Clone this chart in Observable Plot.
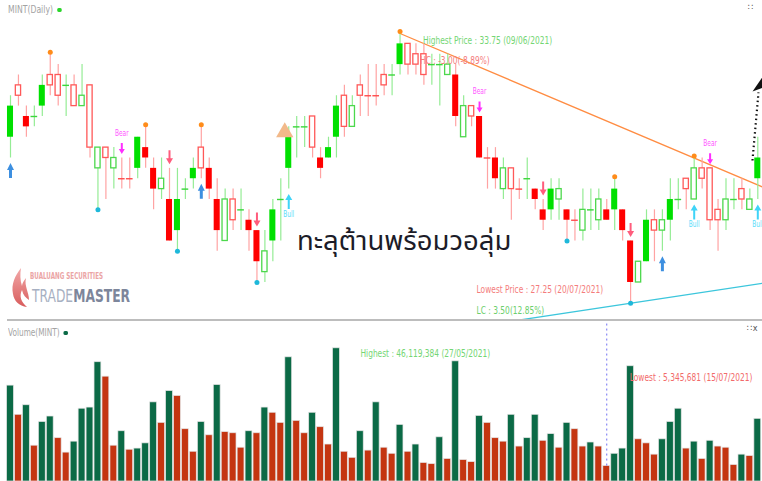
<!DOCTYPE html>
<html><head><meta charset="utf-8">
<script src="https://cdn.jsdelivr.net/npm/d3@7"></script>
<script src="https://cdn.jsdelivr.net/npm/@observablehq/plot@0.6"></script>
<style>
html,body{margin:0;padding:0;background:#fff;}
#wrap{position:relative;width:762px;height:481px;overflow:hidden;background:#fff;font-family:"Liberation Sans Narrow","DejaVu Sans Condensed",sans-serif;}
#price{position:absolute;left:0;top:0;}
#vol{position:absolute;left:0;top:320px;}
#divider{position:absolute;left:7px;top:319px;width:755px;height:2px;background:#bdbdbd;}
.hdr{position:absolute;font-size:11px;color:#a3a3a3;white-space:nowrap;transform:scaleX(0.78);transform-origin:0 50%;}
.hdr i{display:inline-block;width:6px;height:4px;border-radius:2px;margin-left:5px;vertical-align:middle;}
.ico{position:absolute;font-size:9px;color:#555;letter-spacing:-1px;}
#note{position:absolute;left:297px;top:228px;font-family:"Noto Sans Thai","Noto Sans","DejaVu Sans",sans-serif;font-size:27.5px;line-height:1;color:#1c1c28;white-space:nowrap;}
#logo{position:absolute;left:10px;top:263px;}
</style></head><body>
<div id="wrap">
  <div id="price"></div>
  <div id="vol"></div>
  <div id="divider"></div>
  <div class="hdr" id="h1" style="left:8px;top:3px;"></div>
  <div class="ico" style="left:748px;top:2px;">∷</div>
  <div class="hdr" id="h2" style="left:8px;top:326px;font-size:10.5px;"></div>
  <div class="ico" style="left:747px;top:323px;">∷ x</div>
  <div id="note">ทะลุต้านพร้อมวอลุ่ม</div>
  <svg id="logo" width="150" height="48" viewBox="0 0 150 48">
    <defs><linearGradient id="fl" x1="0" y1="0" x2="0" y2="1"><stop offset="0" stop-color="#F2A8A8"/><stop offset="1" stop-color="#D85C5C"/></linearGradient></defs>
    <path d="M11 5 C 5 13, 1 21, 3 31 C 4 38, 9 43, 17 44 C 11 39, 9 33, 12 27 C 13 32, 16 35, 19 37 C 19 29, 14 23, 16 15 C 14 18, 12 20, 12 23 C 10 17, 10 11, 11 5 Z" fill="url(#fl)"/>
    <text x="20" y="16" font-family="Liberation Sans Narrow, DejaVu Sans Condensed, sans-serif" font-size="8" font-weight="bold" fill="#EBA5A5" textLength="73" lengthAdjust="spacingAndGlyphs">BUALUANG SECURITIES</text>
    <text x="22" y="39" font-family="Liberation Sans Narrow, DejaVu Sans Condensed, sans-serif" font-size="18.5" textLength="98" lengthAdjust="spacingAndGlyphs"><tspan fill="#A7B0C2">TRADE</tspan><tspan fill="#7D869B" font-weight="bold">MASTER</tspan></text>
  </svg>
</div>
<script>
// ---------- data ----------
const symbol = "MINT";
const opens  = [31.25,32.5,31.5,31.75,32.0,32.75,32.75,32.5,32.5,32.25, 32.5,31.0,31.0,30.75,30.25,30.25,30.5,30.75,30.0,30.25, 28.75,29.0,30.0,30.25,31.0,30.0,29.0,29.75,29.75,29.5, 29.0,28.25,28.5,28.75,29.75,30.5,31.5,31.5,31.75,30.5, 30.75,31.25,32.25,32.0,32.5,32.25,32.25,32.75,32.75,33.0, 33.5,33.25,33.25,33.0,33.0,33.0,31.75,32.0,32.0,30.75, 30.75,30.25,30.5,30.5,30.0,30.25,29.75,29.25,29.5,30.0, 29.25,29.25,29.5,29.5,29.75,29.25,29.5,29.0,27.75,28.25, 28.25,29.25,29.25,29.25,29.75,30.25,30.5,30.5,30.5,29.5, 29.75,29.75,30.0,29.75,30.25];
const highs  = [32.25,32.75,32.0,32.0,32.75,33.25,33.0,32.75,32.75,33.0, 32.5,31.0,31.0,31.0,30.75,30.75,31.25,31.5,30.75,30.75, 30.5,30.5,30.25,30.75,31.5,30.75,30.25,30.0,30.0,30.0, 29.5,29.0,29.0,29.75,30.25,31.5,31.75,31.75,31.75,31.0, 31.25,32.25,32.5,32.25,32.75,33.0,33.0,33.0,33.0,33.75, 33.5,33.5,33.5,33.25,33.25,33.25,33.0,32.25,32.0,31.75, 31.0,31.0,30.75,30.5,30.25,30.75,30.0,29.75,30.25,30.25, 29.5,29.5,30.0,30.0,30.0,29.75,30.25,29.5,28.75,28.25, 29.5,29.5,29.5,30.25,30.25,30.25,30.75,30.75,30.5,29.75, 30.25,30.25,30.25,30.0,31.25];
const lows   = [30.75,32.0,31.25,31.5,31.75,32.25,32.0,31.75,32.0,32.0, 30.75,29.5,29.75,30.0,30.0,30.0,30.25,30.5,29.5,29.75, 28.75,28.5,29.75,30.0,30.25,29.75,28.5,28.75,29.0,29.0, 28.5,27.75,27.75,28.25,28.75,30.0,30.75,31.0,30.75,30.25, 30.75,30.75,31.25,31.5,31.75,31.75,32.0,32.25,32.25,32.75, 32.75,32.75,32.5,32.5,32.0,32.75,31.5,31.25,31.5,30.75, 30.0,30.0,29.75,29.25,29.75,29.75,29.5,29.0,29.25,29.25, 28.75,28.75,28.75,29.0,29.0,29.25,29.0,28.75,27.25,27.75, 28.25,28.25,28.5,28.75,29.5,29.5,29.75,30.0,29.0,28.5, 29.0,29.5,29.5,29.5,29.75];
const closes = [32.0,32.25,31.75,31.75,32.5,32.5,32.25,32.5,32.0,32.0, 31.0,30.5,30.75,30.5,30.25,30.25,31.25,31.0,30.5,30.0, 29.75,29.75,30.0,30.5,30.5,30.5,29.75,28.75,29.25,29.5, 29.25,29.0,28.0,29.5,29.75,31.25,31.5,31.5,31.0,30.75, 31.0,32.0,31.5,31.5,32.25,32.25,32.25,32.5,32.75,33.5, 33.0,33.0,32.75,33.0,33.0,32.75,32.75,31.25,31.75,31.75, 30.75,30.75,30.0,30.0,30.0,30.25,30.0,29.5,30.0,29.75, 29.5,29.25,29.0,29.5,29.25,29.5,30.0,29.5,28.75,27.75, 29.25,29.0,29.0,29.75,29.75,30.0,29.75,30.25,29.25,29.25, 29.25,29.75,29.75,29.5,30.75];
// candle colour: U = green, D = red
const candleTrend = ("UDDUUDDUDU"+"DUDUDDUDDU"+"DUUUDDDUDU"+"DDUUUUUUDD"+"UUDUDDDDUU"+"DDDUUUDUDD"+"DDUDDUDDUU"+"DDUUUDUDDU"+"UDUUUDUDDD"+"UUDUU").split("");
// volume in millions of shares
const volumeM = [33.2,23.1,26.4,12.4,20.6,22.5,15.0,10.0,13.8,25.2, 25.6,41.3,36.3,12.4,17.4,11.0,11.4,13.2,27.4,20.3, 31.3,29.6,18.1,10.3,20.6,16.0,33.4,17.1,16.7,11.7, 17.4,16.7,25.6,23.8,20.3,43.0,21.0,16.7,23.8,18.8, 12.8,46.119384,10.3,8.2,17.4,10.7,27.4,11.7,9.6,19.6, 10.3,12.8,6.4,6.0,15.3,7.8,41.6,7.4,6.7,22.7, 20.3,15.0,13.8,23.1,12.1,15.0,23.1,14.1,16.4,11.7, 20.3,18.1,12.1,13.5,12.1,5.345681,9.6,11.4,39.9,14.6, 13.2,9.3,14.6,20.6,25.2,11.4,13.8,7.8,14.1,12.1, 11.7,5.7,9.3,8.8,21.7];
const volumeTrend = ("GRGRGGRRGG"+"GGRRGRGGGR"+"GRRRGRGRRR"+"GRGRRGRRGR"+"RGRRGRGRRG"+"RGRRGRGRRG"+"RRRGRGGRGR"+"GRRGRRGGGR"+"RRGGGRGRGR"+"RRGRG").split("");
// signals
const swingHighIdx = [5,17,24,49,76,86];
const swingLowIdx  = [11,21,31,70,78];
const bearIdx = [14,59,88];
const sellIdx = [20,31,67,78];
const buyIdx  = [0,24,82];
const bullIdx = [35,86,94];
const breakoutIdx = [35];
// drawings
const resistanceIdx = [49,86];
const supportI = [78,94.6];
const supportP = [27.25,27.73];
const arrowI = [93.33,94.09];
const arrowP = [30.69,32.33];
// labels
const maxPriceDate = "09/06/2021", minPriceDate = "20/07/2021";
const maxVolDate = "27/05/2021", minVolDate = "15/07/2021";
const hcText = "HC : -3.00(-8.89%)", lcText = "LC : 3.50(12.85%)";

// ---------- build ----------
const N = opens.length;
const candles = d3.range(N).map(i => ({i, open: opens[i], high: highs[i], low: lows[i], close: closes[i], up: candleTrend[i] === "U"}));
const vols = d3.range(N).map(i => ({i, v: volumeM[i]*1e6, up: volumeTrend[i] === "G"}));
const G = {fill:"#00E000", hollow:"#4CD84C", wick:"#95EC95", doji:"#3AD63A"};
const R = {fill:"#FF0000", hollow:"#FF5858", wick:"#FFA3A3", doji:"#FF4D4D"};
const pal = d => d.up ? G : R;
const isFilled = d => d.close > d.open;
const bodies = candles.filter(d => d.open !== d.close);
const dojis = candles.filter(d => d.open === d.close);
const xDomain = [-10/7.95, 752/7.95];
const FONT = "Liberation Sans Narrow, DejaVu Sans Condensed, sans-serif";

const arrowSym = (len, hw, hl, sw, dir) => ({draw(c){
  const s = dir;
  c.moveTo(0,0); c.lineTo(hw/2,-s*hl); c.lineTo(sw/2,-s*hl); c.lineTo(sw/2,-s*len);
  c.lineTo(-sw/2,-s*len); c.lineTo(-sw/2,-s*hl); c.lineTo(-hw/2,-s*hl); c.closePath();
}});
const headSym = {draw(c){ c.moveTo(8,-13); c.lineTo(-6,7); c.lineTo(5,3); c.closePath(); }};

const maxI = d3.maxIndex(highs), minI = d3.minIndex(lows);
const slope = (highs[resistanceIdx[1]]-highs[resistanceIdx[0]])/(resistanceIdx[1]-resistanceIdx[0]);
const resLine = [{i: resistanceIdx[0], p: highs[resistanceIdx[0]]}, {i: xDomain[1], p: highs[resistanceIdx[0]] + slope*(xDomain[1]-resistanceIdx[0])}];
const sSlope = (supportP[1]-supportP[0])/(supportI[1]-supportI[0]);
const supLine = [{i: 55, p: supportP[0] + sSlope*(55-supportI[0])}, {i: supportI[1], p: supportP[1]}];
const byIdx = arr => arr.map(i => candles[i]);

const price = Plot.plot({
  width: 762, height: 320, margin: 0,
  x: {domain: xDomain, axis: null},
  y: {domain: [26.834, 34.545], axis: null},
  color: {type: "identity"},
  style: {fontFamily: FONT, background: "transparent"},
  marks: [
    Plot.line(resLine, {x: "i", y: "p", stroke: "#FF8C42", strokeWidth: 1.3}),
    Plot.line(supLine, {x: "i", y: "p", stroke: "#3CC6DC", strokeWidth: 1.3, clip: true}),
    Plot.ruleX(candles, {x: "i", y1: "low", y2: "high", stroke: d => pal(d).wick, strokeWidth: 1.2}),
    Plot.rect(bodies.filter(isFilled), {x1: d => d.i-0.38, x2: d => d.i+0.38, y1: "open", y2: "close", fill: d => pal(d).fill}),
    Plot.rect(bodies.filter(d => !isFilled(d)), {x1: d => d.i-0.33, x2: d => d.i+0.33, y1: "open", y2: "close", fill: "white", stroke: d => pal(d).hollow, strokeWidth: 1.3}),
    Plot.ruleY(dojis, {y: "close", x1: d => d.i-0.42, x2: d => d.i+0.42, stroke: d => pal(d).doji, strokeWidth: 1.4}),
    Plot.dot(byIdx(swingHighIdx), {x: "i", y: "high", dy: -2, r: 2.5, fill: "#FF8C1A", stroke: "none"}),
    Plot.dot(byIdx(swingLowIdx), {x: "i", y: "low", r: 2.5, fill: "#1EB8DA", stroke: "none"}),
    Plot.dot(byIdx(bearIdx), {x: "i", y: "high", dy: -4, symbol: arrowSym(11,6,5,2,1), fill: "#FF2EFF", stroke: "none"}),
    Plot.text(byIdx(bearIdx), {x: "i", y: "high", dy: -25, text: () => "Bear", fill: "#FF55FF", fontSize: 9, className: "sig"}),
    Plot.dot(byIdx(sellIdx), {x: "i", y: "high", dy: -4, symbol: arrowSym(14,7,6,2,1), fill: "#FF5C7C", stroke: "none"}),
    Plot.dot(byIdx(buyIdx), {x: "i", y: "low", dy: 5, symbol: arrowSym(15,7,7,3,-1), fill: "#3D8FE0", stroke: "none"}),
    Plot.dot(byIdx(bullIdx), {x: "i", y: "low", dy: 5, symbol: arrowSym(15,7,6,2,-1), fill: "#3FD4F8", stroke: "none"}),
    Plot.text(byIdx(bullIdx), {x: "i", y: "low", dy: 25, text: () => "Bull", fill: "#5ADCFA", fontSize: 9, className: "sig"}),
    Plot.dot(byIdx(breakoutIdx), {x: "i", y: "close", dx: -4, dy: -5, symbol: "triangle", r: 6.43, fill: "#F2B98A", stroke: "none"}),
    Plot.link([0], {x1: () => arrowI[0], y1: () => arrowP[0], x2: () => arrowI[1], y2: () => arrowP[1], stroke: "#111", strokeWidth: 2.2, strokeDasharray: "1.5,3"}),
    Plot.dot([0], {x: () => arrowI[1], y: () => arrowP[1], dy: -8, symbol: headSym, fill: "#111", stroke: "none"}),
    Plot.text([candles[maxI]], {x: "i", y: "high", dx: 23, dy: 7, textAnchor: "start", text: d => `Highest Price : ${d.high.toFixed(2)} (${maxPriceDate})`, fill: "#74D674", fontSize: 10}),
    Plot.text([candles[maxI]], {x: "i", y: "high", dx: 20, dy: 27, textAnchor: "start", text: () => hcText, fill: "#F47C7C", fontSize: 10}),
    Plot.text([candles[minI]], {x: "i", y: "low", dx: -154, dy: -13, textAnchor: "start", text: d => `Lowest Price : ${d.low.toFixed(2)} (${minPriceDate})`, fill: "#F47C7C", fontSize: 10}),
    Plot.text([candles[minI]], {x: "i", y: "low", dx: -154, dy: 8, textAnchor: "start", text: () => lcText, fill: "#6CCF6C", fontSize: 10})
  ]
});
document.getElementById("price").append(price);

const maxV = d3.maxIndex(vols, d => d.v), minV = d3.minIndex(vols, d => d.v);
const VTOP = 55.75e6;
const fmt = d3.format(",");
const vol = Plot.plot({
  width: 762, height: 161, margin: 0,
  x: {domain: xDomain, axis: null},
  y: {domain: [0, VTOP], axis: null},
  color: {type: "identity"},
  style: {fontFamily: FONT, background: "transparent"},
  marks: [
    Plot.rect(vols, {x1: d => d.i-0.43, x2: d => d.i+0.43, y1: 0, y2: "v", fill: d => d.up ? "#0B6A46" : "#C43511", stroke: "#e4e4e4", strokeWidth: 0.7}),
    Plot.ruleX([vols[minV]], {x: "i", y1: "v", y2: VTOP, stroke: "#6f6ff2", strokeWidth: 1, strokeDasharray: "2,3"}),
    Plot.text([vols[maxV]], {x: "i", y: "v", dx: 24, dy: 5, textAnchor: "start", text: d => `Highest : ${fmt(Math.round(d.v))} (${maxVolDate})`, fill: "#74D674", fontSize: 10}),
    Plot.text([vols[minV]], {x: "i", y: "v", dx: 23, dy: -88, textAnchor: "start", text: d => `Lowest : ${fmt(Math.round(d.v))} (${minVolDate})`, fill: "#F26A6A", fontSize: 10})
  ]
});
document.getElementById("vol").append(vol);

// condense label glyphs to the narrow face used by the original
function condense(svg) {
  svg.querySelectorAll("text").forEach(t => {
    const sig = t.closest(".sig") || (t.parentNode && t.parentNode.classList && t.parentNode.classList.contains("sig"));
    const ratio = sig ? 0.72 : 0.83;
    const L = t.getComputedTextLength();
    if (L > 0) { t.setAttribute("textLength", (L * ratio).toFixed(1)); t.setAttribute("lengthAdjust", "spacingAndGlyphs"); }
  });
}
condense(price); condense(vol);

document.getElementById("h1").innerHTML = `${symbol}(Daily)<i style="background:#2AD52A"></i>`;
document.getElementById("h2").innerHTML = `Volume(${symbol})<i style="background:#0B6A46"></i>`;
</script>
</body></html>
